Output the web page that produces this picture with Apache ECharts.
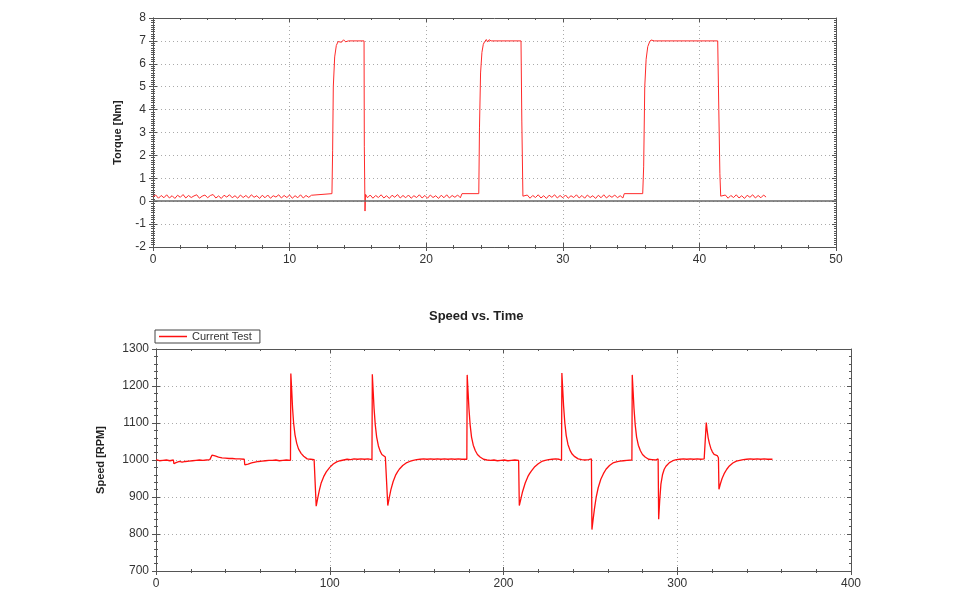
<!DOCTYPE html>
<html><head><meta charset="utf-8">
<script src="https://cdn.jsdelivr.net/npm/echarts@6/dist/echarts.min.js"></script>
<style>html,body{margin:0;padding:0;background:#fff}#c{width:970px;height:605px}</style>
</head><body><div id="c"></div>
<script>
// Torque vs time [s, Nm]
const torquePoints = [
[0,0.20],[0.2,0.27],[0.4,0.13],[0.6,0.25],[0.8,0.15],[1,0.28],[1.2,0.14],[1.4,0.24],[1.6,0.12],[1.8,0.26],[2,0.17],[2.2,0.29],[2.4,0.14],[2.6,0.25],[2.8,0.16],[3,0.23],[3.2,0.28],[3.4,0.13],[3.6,0.22],[3.8,0.27],[4,0.15],[4.2,0.25],[4.4,0.29],[4.6,0.14],[4.8,0.23],[5,0.12],[5.2,0.26],[5.4,0.18],[5.6,0.28],[5.8,0.15],[6,0.24],[6.2,0.13],[6.4,0.27],[6.6,0.16],[6.8,0.25],[7,0.14],[7.2,0.28],[7.4,0.17],[7.6,0.24],[7.8,0.12],[8,0.26],[8.2,0.15],[8.4,0.27],[8.6,0.13],[8.8,0.24],[9,0.18],[9.2,0.28],[9.4,0.14],[9.6,0.25],[9.8,0.16],[10,0.27],[10.2,0.13],[10.4,0.24],[10.6,0.15],[10.8,0.28],[11,0.14],[11.2,0.25],[11.4,0.17],[11.6,0.26],
[11.72,0.33],[13.1,0.33],[13.15,2.2],[13.2,5.0],[13.3,6.3],[13.42,6.8],[13.55,6.97],[13.65,7.04],[13.8,6.94],[13.95,7.05],[14.1,6.96],[14.3,7.0],[15.45,7.0],[15.47,2.4],[15.52,-0.43],[15.56,0.30],
[15.7,0.15],[15.9,0.27],[16.1,0.13],[16.3,0.25],[16.5,0.16],[16.7,0.28],[16.9,0.14],[17.1,0.24],[17.3,0.12],[17.5,0.26],[17.7,0.17],[17.9,0.29],[18.1,0.14],[18.3,0.25],[18.5,0.15],[18.7,0.27],[18.9,0.13],[19.1,0.24],[19.3,0.16],[19.5,0.28],[19.7,0.14],[19.9,0.25],[20.1,0.13],[20.3,0.27],[20.5,0.16],[20.7,0.24],[20.9,0.12],[21.1,0.26],[21.3,0.15],[21.5,0.28],[21.7,0.14],[21.9,0.25],[22.1,0.17],[22.3,0.27],[22.5,0.15],
[22.62,0.33],[23.85,0.33],[23.9,3.2],[23.98,5.6],[24.08,6.5],[24.18,6.85],[24.28,6.97],[24.4,7.06],[24.5,6.95],[24.6,7.05],[24.75,7.0],[26.94,7.0],[27.0,3.5],[27.08,0.22],
[27.2,0.14],[27.4,0.27],[27.6,0.13],[27.8,0.25],[28,0.16],[28.2,0.28],[28.4,0.14],[28.6,0.24],[28.8,0.12],[29,0.26],[29.2,0.17],[29.4,0.28],[29.6,0.14],[29.8,0.25],[30,0.15],[30.2,0.27],[30.4,0.13],[30.6,0.24],[30.8,0.16],[31,0.28],[31.2,0.14],[31.4,0.25],[31.6,0.13],[31.8,0.27],[32,0.16],[32.2,0.24],[32.4,0.12],[32.6,0.26],[32.8,0.15],[33,0.28],[33.2,0.14],[33.4,0.25],[33.6,0.17],[33.8,0.27],[34,0.15],[34.2,0.24],[34.4,0.14],
[34.5,0.33],[35.85,0.33],[35.92,1.5],[36.0,5.0],[36.1,6.2],[36.22,6.75],[36.35,6.95],[36.46,7.04],[36.55,6.97],[36.7,7.0],[41.34,7.0],[41.42,4.0],[41.5,1.2],[41.56,0.22],
[41.7,0.14],[41.9,0.27],[42.1,0.13],[42.3,0.25],[42.5,0.16],[42.7,0.28],[42.9,0.14],[43.1,0.24],[43.3,0.12],[43.5,0.26],[43.7,0.17],[43.9,0.28],[44.1,0.14],[44.3,0.25],[44.5,0.15],[44.7,0.27],[44.88,0.18]
];
// Speed vs time [s, RPM]
const speedPoints = [
[0,1001],[1,1004],[2,998],[3,1003],[4,999],[5,1004],[6,1000],[7,1003],[8,998],[9,1002],[10,1000],
[10.3,990],[11.5,993],[12.5,991],[13.5,996],[15,994],[16,998],[17,996],[18,1000],[19,997],[20,1001],[21,998],[22,1002],[23,999],[24,1003],[25,1000],[26,1003],[27,999],[28,1002],[29,1000],[30,1003],[31,1001],
[32.2,1013],[33,1009],[34,1011],[35,1006],[36,1008],[37,1004],[38,1006],[39,1002],[40,1005],[41,1001],[42,1004],[43,1000],[44,1004],[45,1001],[46,1003],[47,999],[48,1003],[49,1000],[50.8,1002],
[51.1,987],[52,991],[53,989],[54,994],[55,992],[56,996],[57,994],[58,998],[59,996],[60,1000],[61,997],[62,1001],[63,998],[64,1002],[65,999],[66,1003],[67,999],[68,1002],[69,1000],[70,1003],[71,998],[72,1002],[73,999],[74,1003],[75,1000],[76,1002],[77.4,999],
[77.6,1234],[78.1,1190],[78.6,1140],[79.2,1100],[80,1068],[81,1045],[82,1030],[83.5,1018],[85,1010],[86,1007],[87,1003],[88,1007],[89,1002],[90,1005],[91,1001],[91.8,1004],
[92.2,875],[93,895],[94,918],[95,937],[96.5,955],[98,968],[100,980],[101,983],[102,989],[103,990],[104,995],[105,993],[106,998],[107,996],[108,1000],[109,997],[110,1002],[111,998],[112,1001],[113,999],[114,1003],[115,999],[116,1002],[117,998],[118,1003],[119,1000],[120,1002],[121,998],[122,1003],[123,999],[124.3,1001],
[124.5,1232],[125,1185],[125.5,1140],[126.2,1095],[127,1062],[128,1038],[129,1024],[130,1015],[131,1010],[132,1008],[133.1,1005],
[133.4,877],[134.2,897],[135.2,920],[136.5,942],[138,960],[139,968],[140,975],[141,979],[142,985],[143,987],[144,992],[145,992],[146,996],[147,995],[148,999],[149,997],[150,1001],[151,998],[152,1002],[153,999],[154,1003],[155,999],[156,1002],[157,998],[158,1003],[159,1000],[160,1002],[161,998],[162,1003],[163,999],[164,1002],[165,1000],[166,1003],[167,998],[168,1002],[169,999],[170,1003],[171,1000],[172,1002],[173,998],[174,1003],[175,999],[176,1002],[177,1000],[178.9,1002],
[179.1,1230],[179.6,1185],[180.1,1140],[180.8,1095],[181.6,1062],[182.6,1040],[183.8,1025],[185,1015],[186.5,1008],[187.5,1006],[188.5,1002],[189.5,1004],[190.5,1000],[191.5,1003],[192.5,999],[193.5,1003],[194.5,1000],[195.5,1002],[196.5,998],[197.5,1003],[198.5,999],[199.5,1002],[200.5,1000],[201.5,1003],[202.5,998],[203.5,1002],[204.5,999],[205.5,1003],[206.5,1000],[207.5,1002],[208.7,999],
[209.1,877],[210,895],[211,915],[212.5,938],[214,955],[215,963],[216,970],[217,975],[218,982],[219,985],[220,990],[221,991],[222,996],[223,995],[224,999],[225,997],[226,1001],[227,998],[228,1002],[229,999],[230,1003],[231,1000],[232,1002],[233.4,999],
[233.6,1235],[234.1,1190],[234.6,1145],[235.3,1100],[236.1,1066],[237.1,1042],[238.3,1026],[239.5,1016],[241,1009],[242,1007],[243,1003],[244,1005],[245,1001],[246,1004],[247,1000],[248,1003],[249,1001],[250.6,1003],
[250.9,812],[251.6,840],[252.4,870],[253.3,898],[254.5,925],[256,948],[257.5,963],[259,975],[260,980],[261,985],[262,990],[263,992],[264,996],[265,995],[266,999],[267,997],[268,1001],[269,998],[270,1002],[271,999],[272,1003],[273.9,1000],
[274.1,1230],[274.6,1185],[275.1,1140],[275.8,1095],[276.6,1062],[277.6,1040],[278.8,1025],[280,1015],[281.5,1008],[282.5,1006],[283.5,1002],[284.5,1005],[285.5,1001],[286.5,1004],[287.5,1000],[289.0,1003],
[289.3,840],[289.9,890],[290.6,935],[291.5,960],[292.5,975],[293.5,983],[294.5,987],[295.5,993],[296.5,992],[297.5,998],[298.5,996],[299.5,1001],[300.5,998],[301.5,1002],[302.5,999],[303.5,1003],[304.5,1000],[305.5,1002],[306.5,998],[307.5,1003],[308.5,999],[309.5,1002],[310.5,1000],[311.5,1003],[312.5,998],[313.5,1002],[314.5,999],[315.5,1003],[316.5,1000],
[316.7,1101],[317.2,1080],[317.8,1060],[318.5,1045],[319.3,1032],[320.2,1022],[321.2,1015],[322.3,1010],[323,1012],[323.7,1006],
[324,921],[324.8,935],[325.8,950],[327,963],[328.5,975],[330,984],[331,987],[332,992],[333,993],[334,997],[335,995],[336,999],[337,997],[338,1001],[339,998],[340,1002],[341,999],[342,1003],[343,1000],[344,1002],[345,998],[346,1003],[347,999],[348,1002],[349,1000],[350,1003],[351,999],[352,1002],[353,1000],[354.8,1002]
];
const chartTitle = 'Speed vs. Time';
const seriesName = 'Current Test';
const torqueAxisName = 'Torque [Nm]';
const speedAxisName = 'Speed [RPM]';

const FONT = 'Liberation Sans';
const AX = '#555';
function mainAxis(gi, pos, min, max, interval, minorSplit, extra) {
  return Object.assign({
    type: 'value', gridIndex: gi, position: pos, min: min, max: max, interval: interval,
    axisLine: { show: true, onZero: false, lineStyle: { color: AX, width: 1 } },
    axisTick: { show: true, inside: false, length: 4, lineStyle: { color: AX } },
    minorTick: { show: true, splitNumber: minorSplit, length: 2, lineStyle: { color: AX } },
    axisLabel: { color: '#333', fontFamily: FONT, fontSize: 12, margin: 7, formatter: function (v) { return String(v); } },
    splitLine: { show: true, lineStyle: { color: '#aaa', type: [1, 3], width: 1 } }
  }, extra || {});
}
function innerAxis(gi, pos, min, max, interval, minorSplit) {
  return {
    type: 'value', gridIndex: gi, position: pos, offset: 0, min: min, max: max, interval: interval,
    axisLine: { show: true, onZero: false, lineStyle: { color: AX, width: 1 } },
    axisTick: { show: true, inside: true, length: 4, lineStyle: { color: AX } },
    minorTick: { show: true, splitNumber: minorSplit, length: 2, lineStyle: { color: AX } },
    axisLabel: { show: false }, splitLine: { show: false }
  };
}
const nameStyle = { fontFamily: FONT, fontSize: 11, fontWeight: 'bold', color: '#222' };

const chart = echarts.init(document.getElementById('c'), null, { renderer: 'canvas' });
chart.setOption({
  animation: false,
  backgroundColor: '#fff',
  title: { text: chartTitle, left: 424, top: 305, textStyle: { fontFamily: FONT, fontSize: 13, fontWeight: 'bold', color: '#222' } },
  legend: {
    data: [seriesName], left: 155, top: 330, orient: 'horizontal',
    borderColor: '#444', borderWidth: 1, borderRadius: 0, padding: [1, 8, 1, 4],
    itemWidth: 28, itemHeight: 1.5, icon: 'rect', itemGap: 5,
    textStyle: { fontFamily: FONT, fontSize: 11, color: '#333' }
  },
  grid: [
    { left: 153, top: 18, width: 683, height: 229 },
    { left: 156, top: 349, width: 695, height: 222 }
  ],
  xAxis: [
    mainAxis(0, 'bottom', 0, 50, 10, 5),
    innerAxis(0, 'top', 0, 50, 10, 5),
    mainAxis(1, 'bottom', 0, 400, 100, 5),
    innerAxis(1, 'top', 0, 400, 100, 5),
    innerAxis(0, 'bottom', 0, 50, 10, 5),
    innerAxis(1, 'bottom', 0, 400, 100, 5)
  ],
  yAxis: [
    mainAxis(0, 'left', -2, 8, 1, 10, { name: torqueAxisName, nameLocation: 'middle', nameGap: 30, nameTextStyle: nameStyle }),
    innerAxis(0, 'right', -2, 8, 1, 10),
    mainAxis(1, 'left', 700, 1300, 100, 5, { name: speedAxisName, nameLocation: 'middle', nameGap: 50, nameTextStyle: nameStyle }),
    innerAxis(1, 'right', 700, 1300, 100, 5),
    innerAxis(0, 'left', -2, 8, 1, 10),
    innerAxis(1, 'left', 700, 1300, 100, 5)
  ],
  series: [
    {
      name: 'Torque', type: 'line', xAxisIndex: 0, yAxisIndex: 0, data: torquePoints,
      showSymbol: false, symbol: 'none', lineStyle: { color: '#ff2a2a', width: 1 }, itemStyle: { color: '#ff2a2a' },
      markLine: { silent: true, symbol: 'none', label: { show: false },
        lineStyle: { color: '#666', type: 'solid', width: 1.5 }, data: [{ yAxis: 0 }] },
      z: 3
    },
    {
      name: seriesName, type: 'line', xAxisIndex: 2, yAxisIndex: 2, data: speedPoints,
      showSymbol: false, symbol: 'none', lineStyle: { color: '#ff1010', width: 1.3 }, itemStyle: { color: '#ff1010' },
      z: 3
    }
  ]
});
</script></body></html>
